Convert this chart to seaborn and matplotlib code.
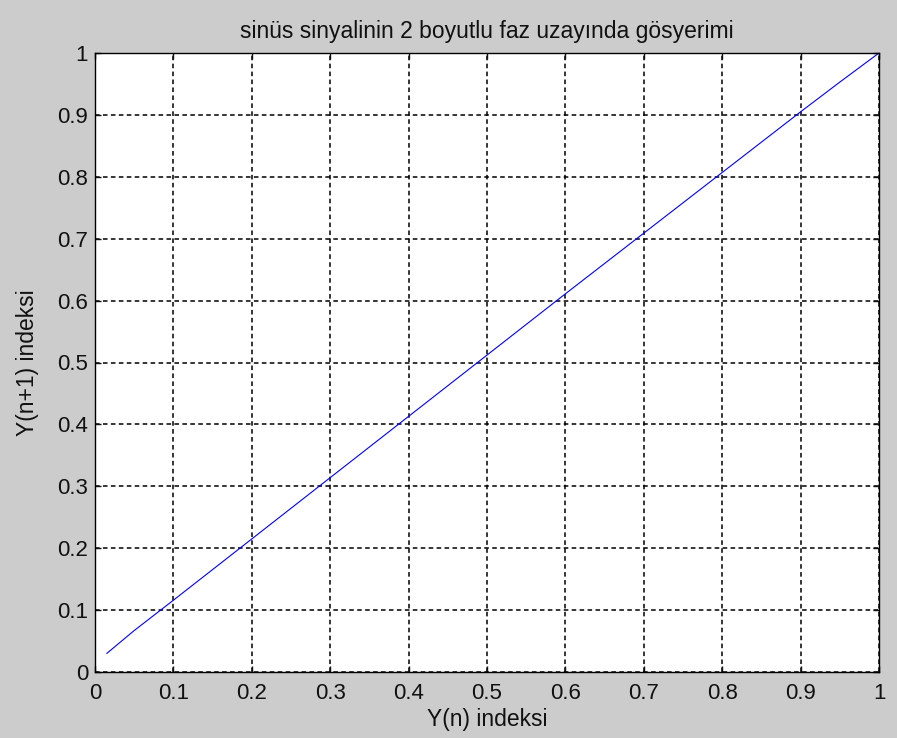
import matplotlib
matplotlib.use("Agg")
import matplotlib.pyplot as plt
import seaborn as sns
import pandas as pd

# Phase-space samples: Y(n) against Y(n+1)
y_n = [0.015, 0.05, 0.10, 0.20, 0.30, 0.40, 0.50, 0.60, 0.70, 0.80, 0.90, 0.95, 1.00]
y_n1 = [0.030, 0.067, 0.116, 0.215, 0.314, 0.413, 0.512, 0.611, 0.709, 0.807, 0.905, 0.953, 1.000]

tick_vals = [0, 0.1, 0.2, 0.3, 0.4, 0.5, 0.6, 0.7, 0.8, 0.9, 1]
tick_labels = ["0", "0.1", "0.2", "0.3", "0.4", "0.5", "0.6", "0.7", "0.8", "0.9", "1"]

title = "sinüs sinyalinin 2 boyutlu faz uzayında gösyerimi"
xlabel = "Y(n) indeksi"
ylabel = "Y(n+1) indeksi"

sns.set_style("ticks")
plt.rcParams["font.family"] = ["Liberation Sans", "DejaVu Sans"]

fig = plt.figure(figsize=(8.97, 7.38), dpi=100, facecolor="#cccccc")
ax = fig.add_axes([95 / 897, 1 - 672 / 738, (879 - 95) / 897, (672 - 53) / 738])
ax.set_facecolor("white")

df = pd.DataFrame({"Y(n)": y_n, "Y(n+1)": y_n1})
sns.lineplot(data=df, x="Y(n)", y="Y(n+1)", sort=False, estimator=None,
             color="#0000ff", linewidth=0.8, ax=ax)

ax.set_xlim(0, 1)
ax.set_ylim(0, 1)
ax.set_xticks(tick_vals)
ax.set_xticklabels(tick_labels)
ax.set_yticks(tick_vals)
ax.set_yticklabels(tick_labels)

ax.grid(True, color="black", linestyle=(0, (3, 2.2)), linewidth=1.1)
ax.tick_params(direction="in", length=4, width=1, top=True, right=True,
               labelsize=16, colors="#111111")
ax.tick_params(axis="x", pad=8)
ax.tick_params(axis="y", pad=5)
for s in ax.spines.values():
    s.set_visible(True)
    s.set_color("black")
    s.set_linewidth(1.0)

ax.set_title(title, fontsize=16.5, color="#111111", pad=11)
ax.set_xlabel(xlabel, fontsize=16.5, color="#111111", labelpad=3)
ax.set_ylabel(ylabel, fontsize=16.5, color="#111111", labelpad=13)

fig.savefig("out.png", dpi=100, facecolor=fig.get_facecolor())
